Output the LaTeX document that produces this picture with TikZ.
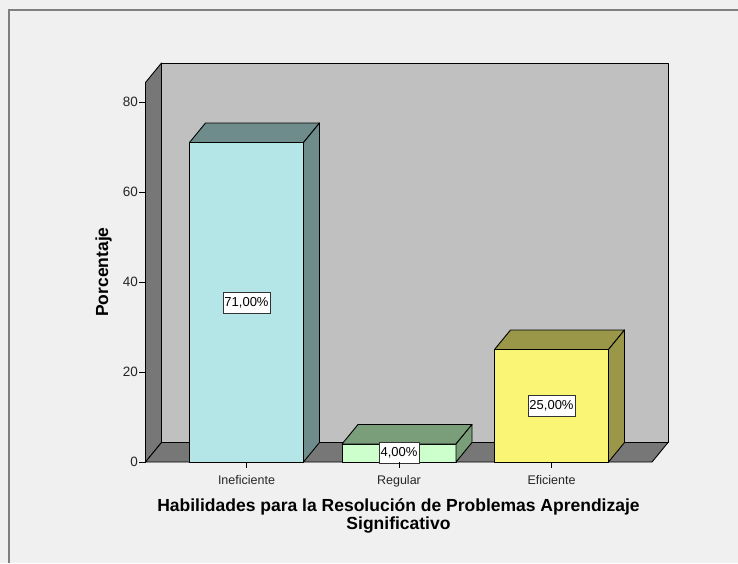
\documentclass[tikz,border=0pt]{standalone}
\usepackage{fontspec}
\setmainfont{Liberation Sans}
\usepackage{xcolor}
\usetikzlibrary{positioning}
\usetikzlibrary{calc}

\definecolor{bgcol}{HTML}{F0F0F0}
\definecolor{framecol}{HTML}{7F7F7F}
\definecolor{backgray}{HTML}{C0C0C0}
\definecolor{sidegray}{HTML}{777777}
\definecolor{cyanfront}{HTML}{B4E6E8}
\definecolor{cyanside}{HTML}{6E8C8C}
\definecolor{greenfront}{HTML}{CCFFCC}
\definecolor{greenside}{HTML}{7A9E7A}
\definecolor{yellowfront}{HTML}{FAF575}
\definecolor{yellowside}{HTML}{9A9848}

\tikzset{
  wall/.style={draw=black,line width=0.9pt,line join=round},
  barline/.style={draw=black,line width=0.9pt,line join=round},
  ticklab/.style={font=\fontsize{12.5}{14}\selectfont,text=black!85,inner sep=1pt},
  numlab/.style={font=\fontsize{13.5}{15}\selectfont,text=black!85,inner sep=1pt},
  vallab/.style={draw=black!80,fill=white,line width=0.8pt,font=\fontsize{13}{15}\selectfont,
    inner xsep=1.5pt,inner ysep=0pt,minimum height=21pt},
  titlelab/.style={font=\fontsize{17.5}{15}\selectfont\bfseries}
}

\begin{document}
\begin{tikzpicture}[x=1pt,y=-1pt]
\useasboundingbox (0,0) rectangle (738,563);
\fill[bgcol] (0,0) rectangle (738,563);
\draw[framecol,line width=2pt] (9,563) -- (9,10) -- (738,10);

\draw[wall,fill=backgray] (161.5,63) rectangle (668,442.5);
\draw[wall,fill=sidegray] (145.5,462) -- (145.5,82.5) -- (161.5,63) -- (161.5,442.5) -- cycle;
\draw[wall,fill=sidegray] (145.5,462) -- (161.5,442.5) -- (668,442.5) -- (652,462) -- cycle;

\node[numlab,anchor=east] (y0) at (139,462) {0};
\node[numlab,anchor=east] (y20) at (139,372) {20};
\node[numlab,anchor=east] (y40) at (139,282) {40};
\node[numlab,anchor=east] (y60) at (139,192) {60};
\node[numlab,anchor=east] (y80) at (139,102) {80};
\draw[line width=0.9pt] (y0.east) -- (145.5,462);
\draw[line width=0.9pt] (y20.east) -- (145.5,372);
\draw[line width=0.9pt] (y40.east) -- (145.5,282);
\draw[line width=0.9pt] (y60.east) -- (145.5,192);
\draw[line width=0.9pt] (y80.east) -- (145.5,102);

\draw[barline,fill=cyanfront] (189.5,462) rectangle (303.5,142.5);
\draw[barline,fill=cyanside] (189.5,142.5) -- (205.5,123) -- (319.5,123) -- (303.5,142.5) -- cycle;
\draw[barline,fill=cyanside] (303.5,142.5) -- (319.5,123) -- (319.5,442.5) -- (303.5,462) -- cycle;

\draw[barline,fill=greenfront] (342,462) rectangle (456,444);
\draw[barline,fill=greenside] (342,444) -- (358,424.5) -- (472,424.5) -- (456,444) -- cycle;
\draw[barline,fill=greenside] (456,444) -- (472,424.5) -- (472,442.5) -- (456,462) -- cycle;

\draw[barline,fill=yellowfront] (494.5,462) rectangle (608.5,349.5);
\draw[barline,fill=yellowside] (494.5,349.5) -- (510.5,330) -- (624.5,330) -- (608.5,349.5) -- cycle;
\draw[barline,fill=yellowside] (608.5,349.5) -- (624.5,330) -- (624.5,442.5) -- (608.5,462) -- cycle;

\node[vallab] (pIne) at (246.5,302.5) {71,00\%};
\node[vallab] (pReg) at (399,453) {4,00\%};
\node[vallab] (pEfi) at (551.5,406) {25,00\%};

\draw[line width=0.9pt] (246.5,462) -- (246.5,468);
\draw[line width=0.9pt] (399,462) -- (399,468);
\draw[line width=0.9pt] (551.5,462) -- (551.5,468);
\node[ticklab,anchor=base] (cIne) at (246.5,484) {Ineficiente};
\node[ticklab,anchor=base] (cReg) at (399,484) {Regular};
\node[ticklab,anchor=base] (cEfi) at (551.5,484) {Eficiente};

\node[titlelab,rotate=90] (ylab) at (103.5,272) {Porcentaje};
\node[titlelab,align=center] (xlab) at (398.5,516) {Habilidades para la Resolución de Problemas Aprendizaje\\Significativo};
\end{tikzpicture}
\end{document}
